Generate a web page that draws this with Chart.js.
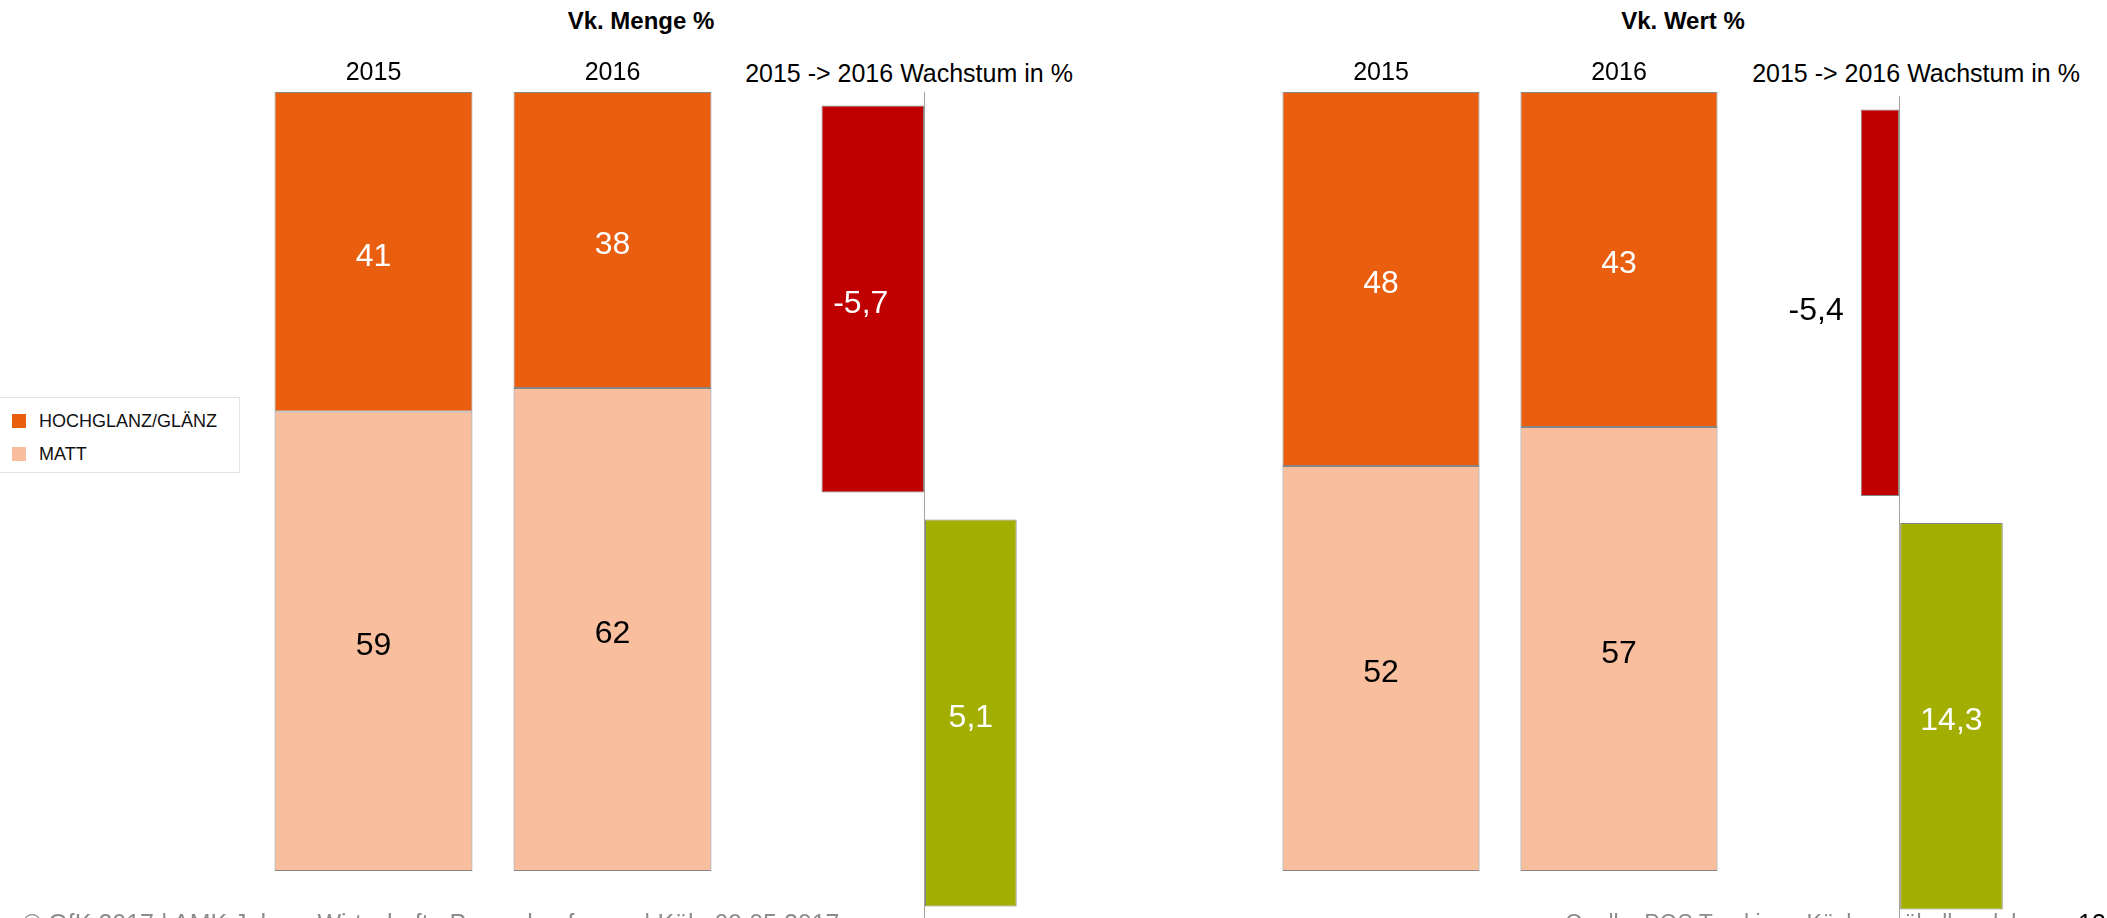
<!DOCTYPE html>
<html><head><meta charset="utf-8">
<script src="https://cdn.jsdelivr.net/npm/chart.js@4.4.1/dist/chart.umd.min.js"></script>
<style>
html,body{margin:0;padding:0;width:2107px;height:918px;overflow:hidden;background:#fff;font-family:"Liberation Sans",Arial,sans-serif;}
.box{position:absolute;}
.t{position:absolute;white-space:nowrap;transform:translate(-50%,-50%);line-height:1;color:#000;}
.legend{position:absolute;left:-1px;top:397px;width:241px;height:76px;border:1px solid #e2e2e2;box-sizing:border-box;}
.li{position:absolute;left:12px;height:18px;display:flex;align-items:center;font-size:18px;color:#111;}
.sw{width:14px;height:14px;margin-right:13px;box-sizing:border-box;}
.foot{position:absolute;white-space:nowrap;line-height:1;font-size:25px;color:#8c8c8c;}
</style></head><body>

<div class="t" style="left:641px;top:21px;font-size:24px;font-weight:bold;">Vk. Menge %</div>
<div class="t" style="left:1683px;top:21px;font-size:24px;font-weight:bold;">Vk. Wert %</div>
<div class="t" style="left:909px;top:73px;font-size:25px;">2015 -&gt; 2016 Wachstum in %</div>
<div class="t" style="left:1916px;top:73px;font-size:25px;">2015 -&gt; 2016 Wachstum in %</div>

<div class="legend" id="legend"></div>

<div class="box" style="left:254px;top:40px;width:478px;height:831px;"><canvas id="c1"></canvas></div>
<div class="box" style="left:798px;top:92px;width:253px;height:828px;"><canvas id="c2"></canvas></div>
<div class="box" style="left:1262px;top:40px;width:476px;height:831px;"><canvas id="c3"></canvas></div>
<div class="box" style="left:1772px;top:96px;width:243px;height:827px;"><canvas id="c4"></canvas></div>

<div class="foot" style="left:23px;top:911px;">© GfK 2017 | AMK Jahres-Wirtschafts-Pressekonferenz | Köln 09.05.2017</div>
<div class="foot" style="left:1565px;top:912px;font-size:23px;">Quelle: POS Tracking - Küchenmöbelhandel</div>
<div class="foot" style="left:2078px;top:911px;color:#000;">13</div>

<script>
// ---- data ----
const years = ['2015', '2016'];
const seriesNames = ['HOCHGLANZ/GLÄNZ', 'MATT'];
const mengeHochglanz = [41, 38];
const mengeMatt = [59, 62];
const wertHochglanz = [48, 43];
const wertMatt = [52, 57];
const growthCategories = ['HOCHGLANZ/GLÄNZ', 'MATT'];
const mengeGrowth = [-5.7, 5.1];
const wertGrowth = [-5.4, 14.3];

// ---- styles ----
const COL_DARK = '#E95E0F';
const COL_LIGHT = '#F8BE9E';
const COL_NEG = '#C00000';
const COL_POS = '#A3AF00';
const BORDER = '#858585';
const AXIS = '#a8a095';
const FONT = '"Liberation Sans", Arial, sans-serif';

// legend
const legend = document.getElementById('legend');
[[seriesNames[0], COL_DARK, 14], [seriesNames[1], COL_LIGHT, 47]].forEach(([name, col, top]) => {
  const d = document.createElement('div');
  d.className = 'li';
  d.style.top = top + 'px';
  d.innerHTML = '<span class="sw" style="background:' + col + '"></span>' + name;
  legend.appendChild(d);
});

const fmt = v => String(v).replace('.', ',');

const valueLabels = {
  id: 'valueLabels',
  afterDatasetsDraw(chart) {
    const ctx = chart.ctx;
    ctx.save();
    ctx.font = '32px ' + FONT;
    ctx.textBaseline = 'middle';
    chart.data.datasets.forEach((ds, di) => {
      const meta = chart.getDatasetMeta(di);
      meta.data.forEach((el, i) => {
        const v = ds.data[i];
        const txt = fmt(v);
        const p = el.getCenterPoint();
        const outside = ds.labelOutside && ds.labelOutside[i];
        ctx.fillStyle = ds.labelColors[i];
        if (outside) {
          ctx.textAlign = 'right';
          ctx.fillText(txt, Math.min(el.x, el.base) - 17, p.y + 8);
        } else {
          ctx.textAlign = 'center';
          const dx = (ds.labelOutside && v < 0) ? -12 : 0;
          ctx.fillText(txt, p.x + dx, p.y + 5);
        }
      });
    });
    ctx.restore();
  }
};

Chart.defaults.font.family = FONT;
Chart.defaults.color = '#000';

function stacked(id, hoch, matt) {
  return new Chart(document.getElementById(id), {
    type: 'bar',
    data: {
      labels: years,
      datasets: [
        { label: seriesNames[1], data: matt, backgroundColor: COL_LIGHT, borderColor: BORDER, borderWidth: 1, borderSkipped: false, labelColors: ['#000', '#000'] },
        { label: seriesNames[0], data: hoch, backgroundColor: COL_DARK, borderColor: BORDER, borderWidth: 1, borderSkipped: false, labelColors: ['#fff', '#fff'] }
      ]
    },
    options: {
      responsive: true, maintainAspectRatio: false, animation: false, devicePixelRatio: 1,
      layout: { padding: 0 },
      barPercentage: 0.828, categoryPercentage: 1,
      plugins: { legend: { display: false }, tooltip: { enabled: false }, title: { display: false } },
      scales: {
        x: {
          stacked: true, position: 'top',
          grid: { display: false, drawTicks: false }, border: { display: false },
          ticks: { font: { size: 25 }, color: '#000', padding: 4 },
          afterFit: s => { s.height = 52; }
        },
        y: { stacked: true, display: false, min: 0, max: 100 }
      }
    },
    plugins: [valueLabels]
  });
}

function growth(id, values, min, max, padLeft, outside) {
  return new Chart(document.getElementById(id), {
    type: 'bar',
    data: {
      labels: growthCategories,
      datasets: [{
        data: values,
        backgroundColor: values.map(v => v < 0 ? COL_NEG : COL_POS),
        borderColor: BORDER, borderWidth: 1, borderSkipped: false,
        labelColors: values.map((v, i) => outside[i] ? '#000' : '#fff'),
        labelOutside: outside
      }]
    },
    options: {
      indexAxis: 'y',
      responsive: true, maintainAspectRatio: false, animation: false, devicePixelRatio: 1,
      layout: { padding: { left: padLeft, right: 0, top: 0, bottom: 0 } },
      barPercentage: 0.935, categoryPercentage: 1,
      plugins: { legend: { display: false }, tooltip: { enabled: false } },
      scales: {
        x: {
          min: min, max: max,
          ticks: { display: false, stepSize: 1 },
          border: { display: false },
          grid: { drawTicks: false, color: c => (c.tick && c.tick.value === 0) ? AXIS : 'rgba(0,0,0,0)' }
        },
        y: { display: false }
      }
    },
    plugins: [valueLabels]
  });
}

stacked('c1', mengeHochglanz, mengeMatt);
growth('c2', mengeGrowth, -7, 7, 0, [false, false]);
stacked('c3', wertHochglanz, wertMatt);
growth('c4', wertGrowth, -8, 16, 70, [true, false]);
</script>
</body></html>
